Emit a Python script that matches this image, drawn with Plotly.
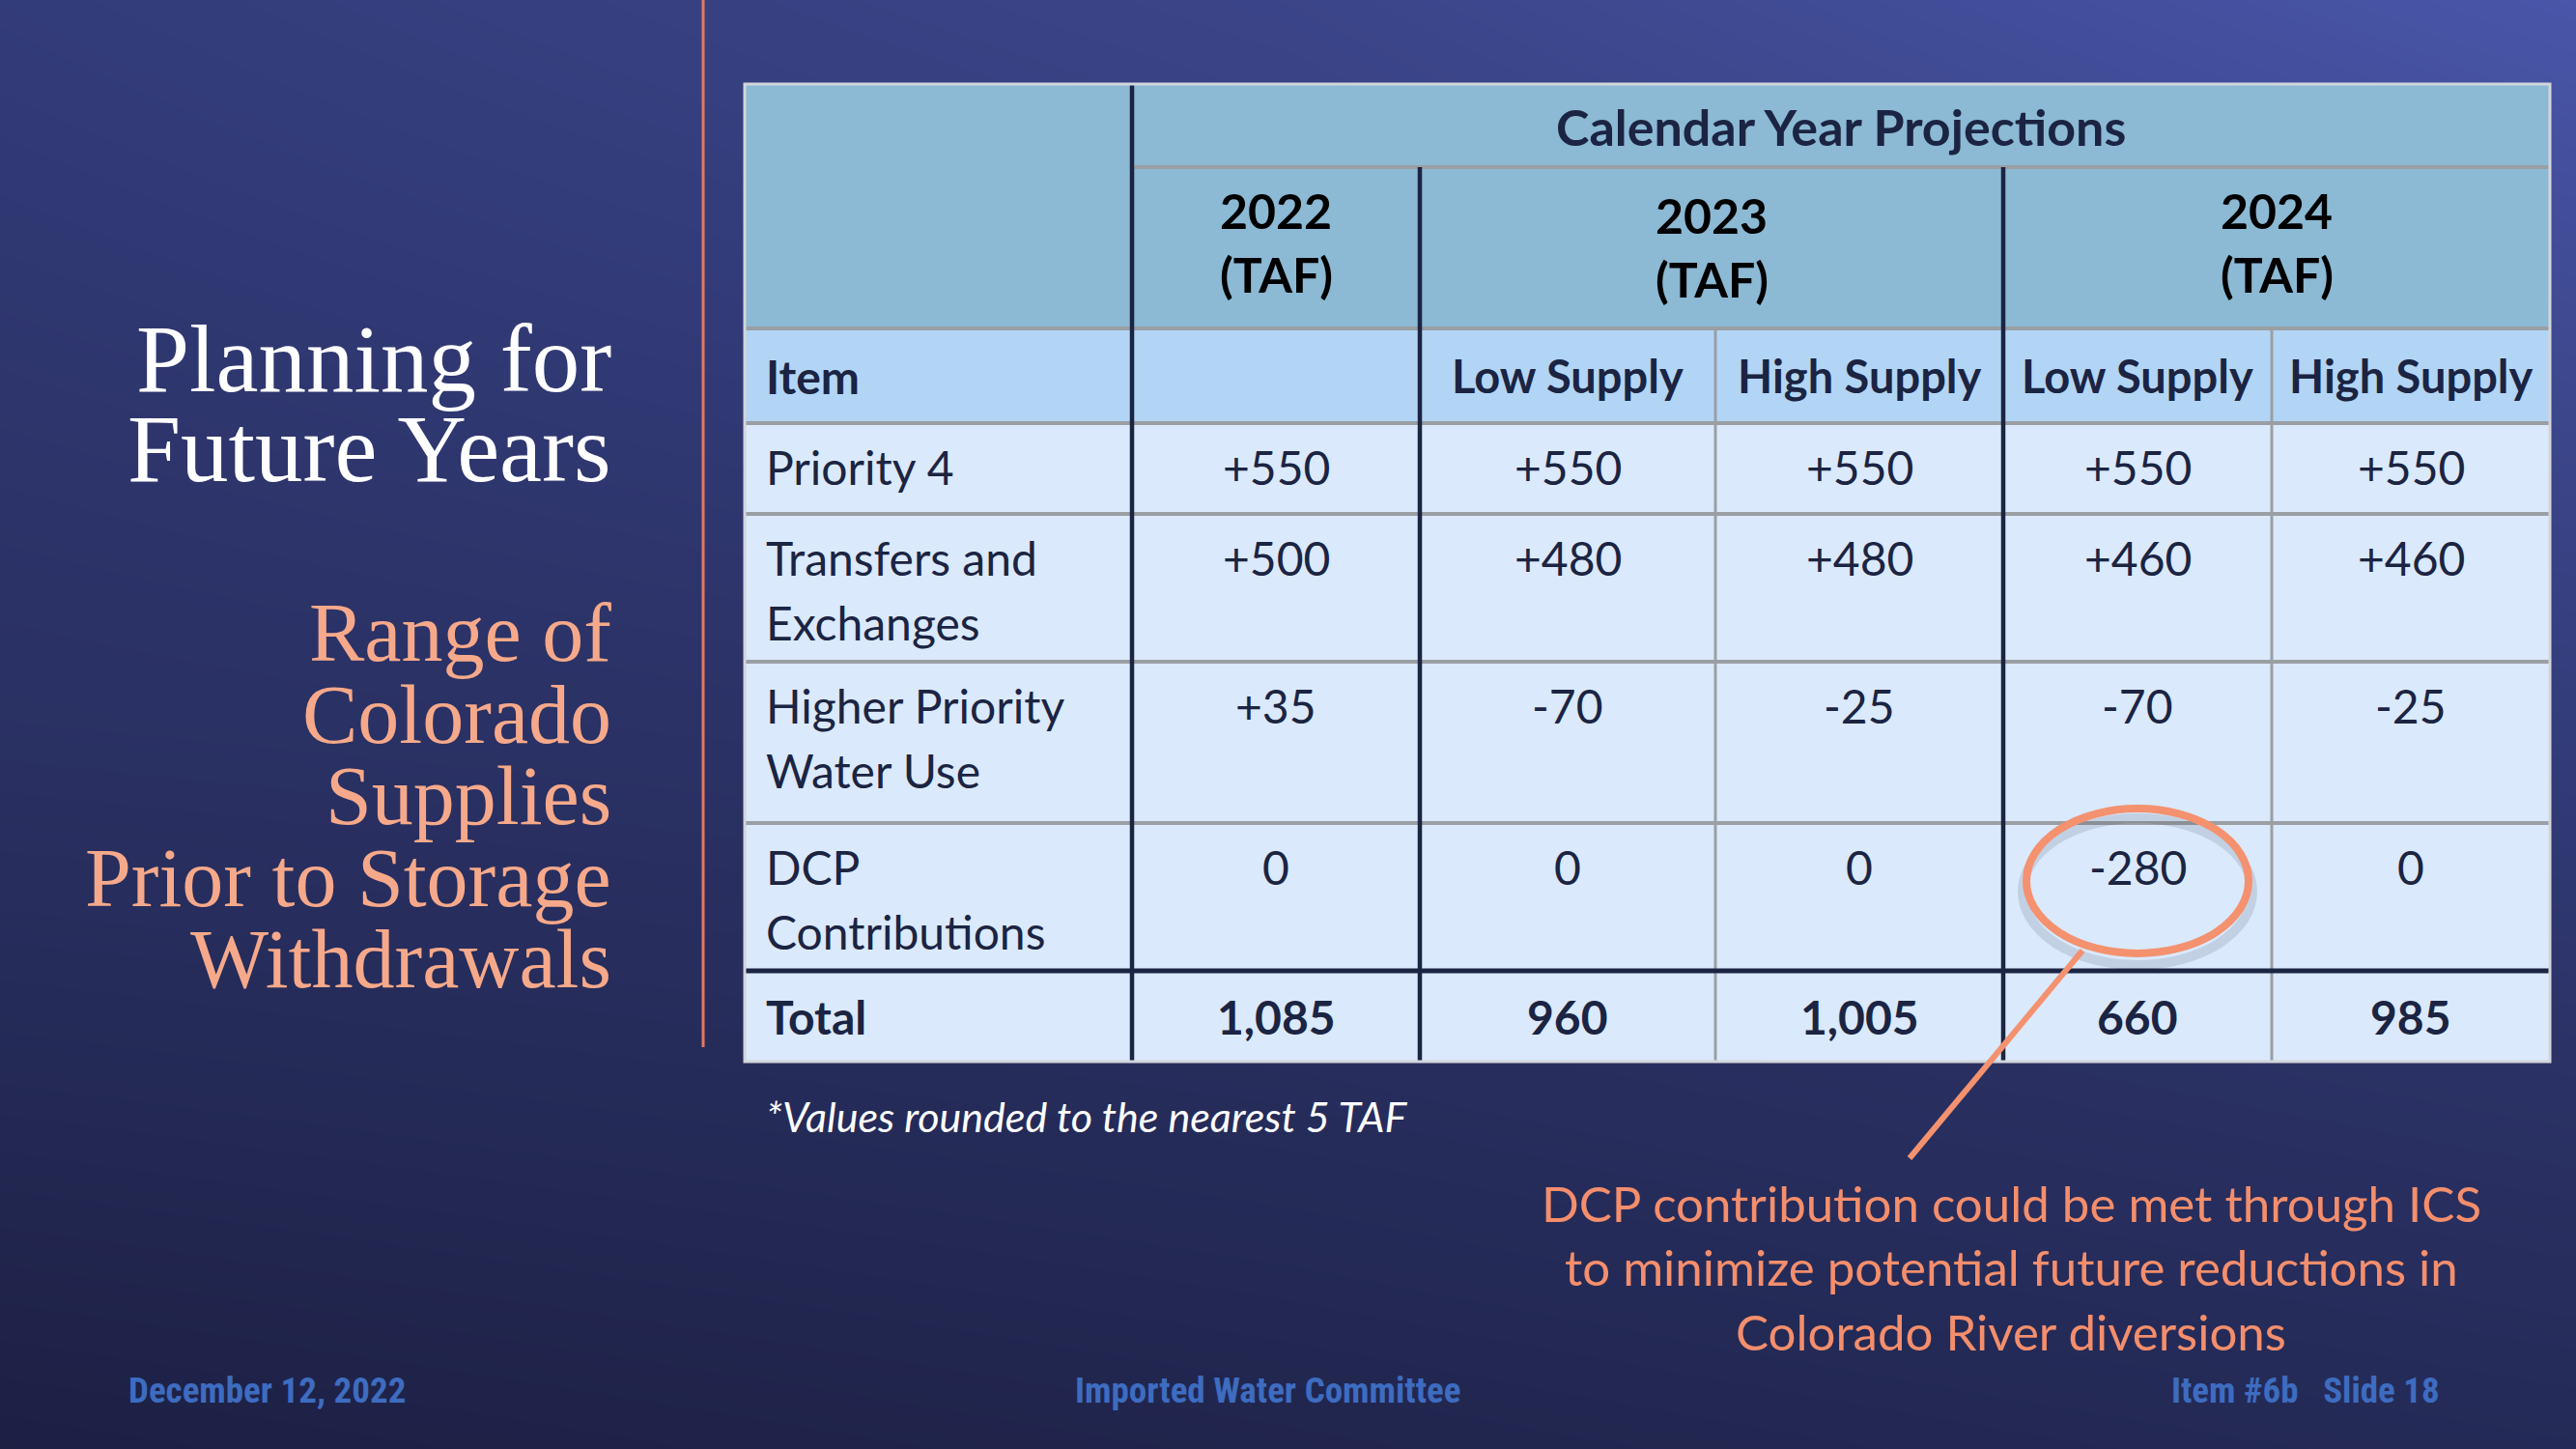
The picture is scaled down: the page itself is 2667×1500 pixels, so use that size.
import plotly.graph_objects as go

# ---------------- data ----------------
group_title = "Calendar Year Projections"
years = ["2022", "2023", "2024"]
year_unit = "(TAF)"
item_header = "Item"
scenarios = ["", "Low Supply", "High Supply", "Low Supply", "High Supply"]
row_labels = [["Priority 4"], ["Transfers and", "Exchanges"], ["Higher Priority", "Water Use"],
              ["DCP", "Contributions"]]
total_label = "Total"
priority4 = [550, 550, 550, 550, 550]
transfers = [500, 480, 480, 460, 460]
higher_priority = [35, -70, -25, -70, -25]
dcp = [0, 0, 0, -280, 0]
totals = [1085, 960, 1005, 660, 985]
footnote = "*Values rounded to the nearest 5 TAF"
title_lines = ["Planning for", "Future Years"]
subtitle_lines = ["Range of", "Colorado", "Supplies", "Prior to Storage", "Withdrawals"]
callout_lines = ["DCP contribution could be met through ICS",
                 "to minimize potential future reductions in",
                 "Colorado River diversions"]
footer_left = "December 12, 2022"
footer_mid = "Imported Water Committee"
footer_right = "Item #6b\u00a0\u00a0\u00a0Slide 18"
highlight_row, highlight_col = 3, 3  # DCP row, 2024 Low Supply

# ---------------- layout geometry (pixels) ----------------
W, H = 2667, 1500
col_edges = [771, 1172, 1470, 1776, 2074, 2352, 2640]
row_edges = [87, 173, 340, 438, 532, 685, 852, 1005, 1099]

NAVY = "#1b2442"
GREY = "#9a9fa4"

def fmt_signed(v):
    if v > 0:
        return "+%d" % v
    return "%d" % v

fig = go.Figure()

# background gradient
fig.add_trace(go.Heatmap(
    x=[-20, W / 2, W + 20], y=[-20, H / 2, H + 20],
    z=[[0.55, 0.72, 1.0], [0.36, 0.42, 0.56], [0.0, 0.1, 0.2]],
    zsmooth="best", showscale=False, hoverinfo="skip",
    colorscale=[[0, "#1c1f42"], [0.2, "#242a56"], [0.4, "#2b3266"], [0.55, "#333c7a"],
                [0.72, "#3b4589"], [1, "#4a57ab"]], zmin=0, zmax=1))

shapes = []
def rect(x0, x1, y0, y1, fill):
    shapes.append(dict(type="rect", x0=x0, x1=x1, y0=y0, y1=y1, fillcolor=fill,
                       line=dict(width=0), layer="above"))
def line(x0, y0, x1, y1, color, width):
    shapes.append(dict(type="line", x0=x0, y0=y0, x1=x1, y1=y1,
                       line=dict(color=color, width=width), layer="above"))

L, R = col_edges[0], col_edges[-1]
rect(L, R, row_edges[0], row_edges[2], "#8cb9d4")
rect(L, R, row_edges[2], row_edges[3], "#b2d5f5")
rect(L, R, row_edges[3], row_edges[-1], "#dae9fb")

# grey horizontal lines
line(col_edges[1], row_edges[1], R, row_edges[1], GREY, 4)
for ye in row_edges[2:7]:
    line(L, ye, R, ye, GREY, 4)
# grey vertical lines within year groups
for xi in (3, 5):
    line(col_edges[xi], row_edges[2], col_edges[xi], row_edges[-1], GREY, 3)
# dark lines
line(L, row_edges[7], R, row_edges[7], NAVY, 5)
line(col_edges[1], row_edges[0], col_edges[1], row_edges[-1], NAVY, 4.5)
for xi in (2, 4):
    line(col_edges[xi], row_edges[1], col_edges[xi], row_edges[-1], NAVY, 4.5)
# outer border
shapes.append(dict(type="rect", x0=L, x1=R, y0=row_edges[0], y1=row_edges[-1],
                   line=dict(color="#d2d6da", width=3), layer="above"))

# orange divider
line(728, 0, 728, 1084, "#e8765a", 3)

annotations = []
def text(x, y, s, size, color, family="Lato", xanchor="center", bold=False, italic=False):
    if bold:
        s = "<b>" + s + "</b>"
    if italic:
        s = "<i>" + s + "</i>"
    annotations.append(dict(x=x, y=y, xref="x", yref="y", text=s, showarrow=False,
                            xanchor=xanchor, yanchor="middle",
                            font=dict(family=family, size=size, color=color)))

TS = 48
def cc(i):
    return (col_edges[i] + col_edges[i + 1]) / 2

# header
text((col_edges[1] + R) / 2, 131, group_title, 52, NAVY, bold=True)
year_cols = [(1, 2), (2, 4), (4, 6)]
year_dy = [0, 5, 0]
for (a, b), yr, dy in zip(year_cols, years, year_dy):
    xc = (col_edges[a] + col_edges[b]) / 2
    text(xc, 218 + dy, yr, 50, "#000000", bold=True)
    text(xc, 284 + dy, year_unit, 50, "#000000", bold=True)

# item row
ym = (row_edges[2] + row_edges[3]) / 2
text(L + 20, ym, item_header, TS, NAVY, xanchor="left", bold=True)
for i, s in enumerate(scenarios):
    if s:
        text(cc(i + 1), ym, s, 47, NAVY, bold=True)

# body rows
body = [priority4, transfers, higher_priority, dcp]
line_gap = 67
for r, (labels, vals) in enumerate(zip(row_labels, body)):
    top = row_edges[3 + r]
    y1 = top + 45
    for k, lab in enumerate(labels):
        text(L + 20, y1 + k * line_gap, lab, TS, NAVY, xanchor="left")
    for i, v in enumerate(vals):
        text(cc(i + 1), y1, fmt_signed(v), TS, NAVY)

yt = (row_edges[7] + row_edges[8]) / 2
text(L + 20, yt, total_label, TS, NAVY, xanchor="left", bold=True)
for i, v in enumerate(totals):
    text(cc(i + 1), yt, "{:,}".format(v), TS, NAVY, bold=True)

text(L + 20, 1155, footnote, 43, "#ffffff", xanchor="left", italic=True)

# highlight circle and leader
hx = cc(highlight_col + 1)
hy = row_edges[3 + highlight_row] + 60
rx, ry = 115, 75
shapes.append(dict(type="circle", x0=hx - rx - 4, x1=hx + rx + 4, y0=hy - ry + 10, y1=hy + ry + 12,
                   line=dict(color="rgba(40,45,70,0.13)", width=10), layer="above"))
shapes.append(dict(type="circle", x0=hx - rx, x1=hx + rx, y0=hy - ry, y1=hy + ry,
                   line=dict(color="#f4916f", width=8), layer="above"))
line(hx - 57, hy + ry - 3, 1977, 1199, "#f4916f", 6)

for k, s in enumerate(callout_lines):
    text(2082, 1245 + k * 66.5, s, 51, "#f48e6c")

# title block
for k, s in enumerate(title_lines):
    text(635, 371 + k * 93, s, 99, "#ffffff", family="Liberation Serif", xanchor="right")
for k, s in enumerate(subtitle_lines):
    text(635, 655 + k * 84.5, s, 86, "#f6a98a", family="Liberation Serif", xanchor="right")

# footer
FF = "Liberation Sans Narrow, Arial Narrow, Roboto Condensed, sans-serif"
text(131, 1439, footer_left, 37, "#3d6cc0", family=FF, xanchor="left", bold=True)
text(1312, 1439, footer_mid, 37, "#3d6cc0", family=FF, bold=True)
text(2528, 1439, footer_right, 37, "#3d6cc0", family=FF, xanchor="right", bold=True)

fig.update_layout(
    width=W, height=H, margin=dict(l=0, r=0, t=0, b=0),
    paper_bgcolor="#262c5a", plot_bgcolor="#262c5a",
    xaxis=dict(range=[0, W], visible=False, fixedrange=True),
    yaxis=dict(range=[H, 0], visible=False, fixedrange=True),
    shapes=shapes, annotations=annotations, showlegend=False,
)
fig.write_html("out.html", config={"displayModeBar": False},
               post_script="document.body.style.margin='0';document.body.style.overflow='hidden';")
